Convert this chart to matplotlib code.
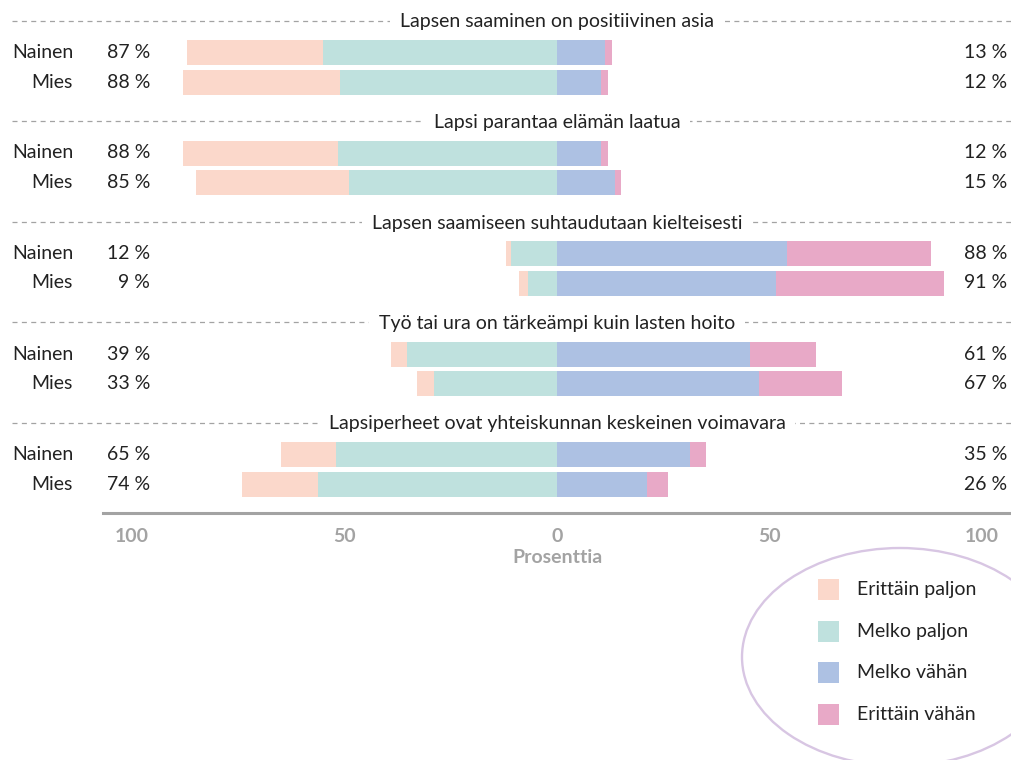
import matplotlib.pyplot as plt
import matplotlib.transforms as transforms
from matplotlib.patches import Ellipse, Rectangle

plt.rcParams["font.family"] = ["Lato", "DejaVu Sans"]

statements = [
    "Lapsen saaminen on positiivinen asia",
    "Lapsi parantaa elämän laatua",
    "Lapsen saamiseen suhtaudutaan kielteisesti",
    "Työ tai ura on tärkeämpi kuin lasten hoito",
    "Lapsiperheet ovat yhteiskunnan keskeinen voimavara",
]
genders = ["Nainen", "Mies"]
levels = ["Erittäin paljon", "Melko paljon", "Melko vähän", "Erittäin vähän"]
colors = ["#fbd8cb", "#bfe1de", "#adc1e3", "#e8a9c7"]

# shares per statement as [Nainen, Mies]
erittain_paljon = [[32, 37], [36.5, 36], [1.2, 2.1], [3.8, 4], [13, 17.7]]
melko_paljon = [[55, 51], [51.5, 49], [10.8, 6.9], [35.2, 29], [52, 56.3]]
melko_vahan = [[11.2, 10.4], [10.4, 13.6], [54, 51.6], [45.4, 47.6], [31.2, 21.1]]
erittain_vahan = [[1.8, 1.6], [1.6, 1.4], [34, 39.4], [15.6, 19.4], [3.8, 4.9]]
paljon_total = [[87, 88], [88, 85], [12, 9], [39, 33], [65, 74]]
vahan_total = [[13, 12], [12, 15], [88, 91], [61, 67], [35, 26]]

W, H = 1011, 760
TEXT = "#222222"
GREY = "#a3a3a3"
FS = 14

fig = plt.figure(figsize=(W / 100, H / 100), dpi=100)
# axes in pixel-like y units (0 at top, axis line at 513)
ax = fig.add_axes([103 / W, 1 - 513 / H, 1 - 103 / W, 513 / H])
ax.set_xlim(-106.8, 106.8)
ax.set_ylim(513, 0)

# x in figure fraction, y in data units
row_tf = transforms.blended_transform_factory(fig.transFigure, ax.transData)

bar_h = 25
for i, title in enumerate(statements):
    title_y = 20.5 + 100.5 * i

    # dashed separator with the statement on top of it
    ax.plot([12 / W, 1.0], [title_y, title_y], transform=row_tf, color=GREY,
            lw=0.9, ls=(0, (4, 3.5)), clip_on=False)
    ax.text(0, title_y + 1.5, title, ha="center", va="center", fontsize=FS,
            color=TEXT, bbox=dict(facecolor="white", edgecolor="none", pad=7))

    for j, gender in enumerate(genders):
        y = title_y + 32 + 29.5 * j
        ep = erittain_paljon[i][j]
        mp = melko_paljon[i][j]
        mv = melko_vahan[i][j]
        ev = erittain_vahan[i][j]

        ax.barh(y, -ep, left=-mp, height=bar_h, color=colors[0])
        ax.barh(y, -mp, height=bar_h, color=colors[1])
        ax.barh(y, mv, height=bar_h, color=colors[2])
        ax.barh(y, ev, left=mv, height=bar_h, color=colors[3])

        ax.text(73 / W, y, gender, transform=row_tf, ha="right", va="center",
                fontsize=FS, color=TEXT)
        ax.text(150 / W, y, f"{paljon_total[i][j]} %", transform=row_tf,
                ha="right", va="center", fontsize=FS, color=TEXT)
        ax.text(1007 / W, y, f"{vahan_total[i][j]} %", transform=row_tf,
                ha="right", va="center", fontsize=FS, color=TEXT)

for side in ["top", "left", "right"]:
    ax.spines[side].set_visible(False)
ax.spines["bottom"].set_color(GREY)
ax.spines["bottom"].set_linewidth(2.2)
ax.set_yticks([])
ax.set_xticks([-100, -50, 0, 50, 100])
ax.set_xticklabels(["100", "50", "0", "50", "100"])
ax.tick_params(axis="x", length=0, pad=11, labelsize=FS, labelcolor=GREY)
for lbl in ax.get_xticklabels():
    lbl.set_fontweight("bold")
ax.set_xlabel("Prosenttia", fontsize=FS, color=GREY, fontweight="bold",
              labelpad=3)

# legend inside an ellipse at the bottom right
fig.add_artist(Ellipse((900 / W, 1 - 657 / H), 316 / W, 218 / H,
                       transform=fig.transFigure, facecolor="none",
                       edgecolor="#d8c6e3", lw=1.7))
for k, (level, color) in enumerate(zip(levels, colors)):
    cy = 589.5 + 41.7 * k
    fig.add_artist(Rectangle((818 / W, 1 - (cy + 10.5) / H), 21 / W, 21 / H,
                             transform=fig.transFigure, facecolor=color,
                             edgecolor="none"))
    fig.text(857 / W, 1 - cy / H, level, ha="left", va="center",
             fontsize=FS, color=TEXT)

fig.savefig("out.png", dpi=100)
